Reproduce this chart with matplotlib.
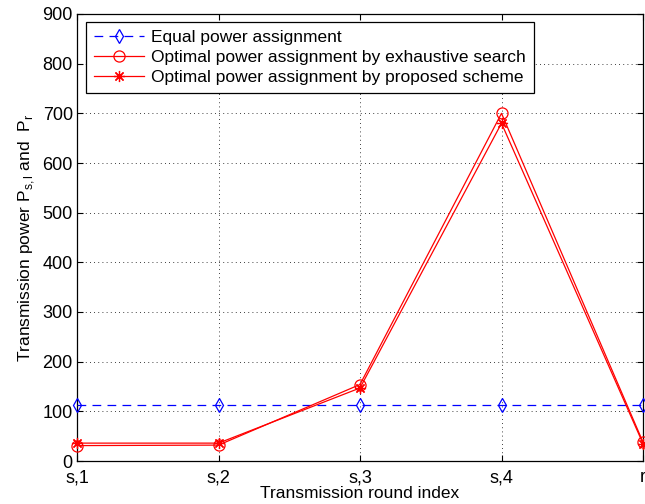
import matplotlib
matplotlib.use("Agg")
import matplotlib.pyplot as plt

rounds = ["s,1", "s,2", "s,3", "s,4", "r"]
equal_power = [112, 112, 112, 112, 112]
exhaustive = [31, 32, 154, 700, 38]
proposed = [36, 36, 147, 680, 35]

plt.rcParams["font.family"] = ["Liberation Sans", "DejaVu Sans"]
plt.rcParams["mathtext.fontset"] = "custom"
plt.rcParams["mathtext.rm"] = "Liberation Sans"

fig = plt.figure(figsize=(6.45, 5.04), dpi=100)
ax = fig.add_axes([77 / 645, 43 / 504, 566 / 645, 447 / 504])

x = list(range(1, len(rounds) + 1))
ax.plot(x, equal_power, color="blue", linestyle=(0, (7, 5)), linewidth=0.9,
        marker="d", markersize=7, markerfacecolor="none", markeredgewidth=0.9,
        label="Equal power assignment", clip_on=False, zorder=3)
ax.plot(x, exhaustive, color="red", linewidth=0.9,
        marker="o", markersize=8, markerfacecolor="none", markeredgewidth=0.9,
        label="Optimal power assignment by exhaustive search", clip_on=False, zorder=3)
ax.plot(x, proposed, color="red", linewidth=0.9,
        marker=(8, 2, 0), markersize=8, markeredgewidth=0.9,
        label="Optimal power assignment by proposed scheme", clip_on=False, zorder=3)

ax.set_xlim(1, 5)
ax.set_ylim(0, 900)
ax.set_xticks(x)
ax.set_xticklabels(rounds)
ax.set_yticks(range(0, 901, 100))
ax.tick_params(direction="in", top=True, right=True, labelsize=13, length=4, width=0.8)
ax.tick_params(axis="x", pad=6)
ax.tick_params(axis="y", pad=3)
ax.grid(True, linestyle=(0, (1, 4)), color="black", linewidth=0.6)
for s in ax.spines.values():
    s.set_linewidth(0.9)

ax.set_xlabel("Transmission round index", fontsize=12.5, labelpad=0)
ax.set_ylabel(r"Transmission power P$_{\mathrm{s,l}}$ and  P$_{\mathrm{r}}$", fontsize=12.5, labelpad=4)

leg = ax.legend(loc="upper left", bbox_to_anchor=(0.016, 0.982), fontsize=12.5,
                handlelength=2.9, fancybox=False, edgecolor="black",
                framealpha=1, borderpad=0.45, labelspacing=0.28, handletextpad=0.4,
                borderaxespad=0)
leg.get_frame().set_linewidth(0.9)

fig.savefig("out.png", dpi=100)
